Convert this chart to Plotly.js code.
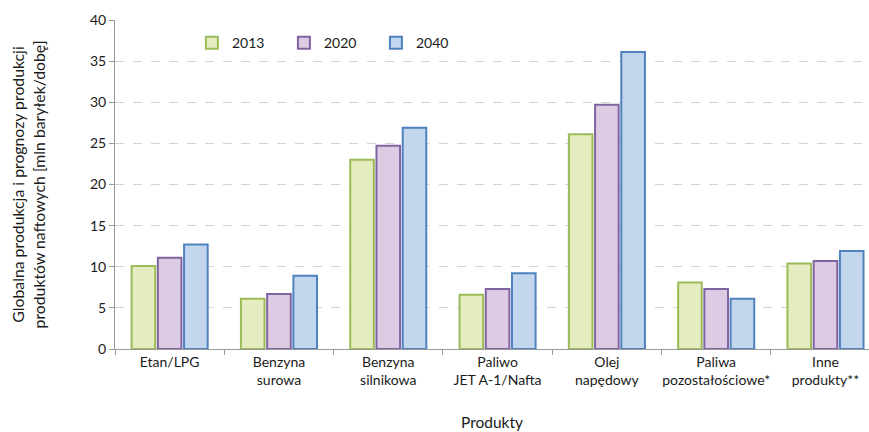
<!DOCTYPE html>
<html>
<head>
<meta charset="utf-8">
<script src="https://cdn.plot.ly/plotly-3.0.1.min.js"></script>
<style>html,body{margin:0;padding:0;background:#fff;}#chart{width:869px;height:432px;}</style>
</head>
<body>
<div id="chart"></div>
<script>
const categories = [
  "Etan/LPG",
  "Benzyna<br>surowa",
  "Benzyna<br>silnikowa",
  "Paliwo<br>JET A-1/Nafta",
  "Olej<br>napędowy",
  "Paliwa<br>pozostałościowe*",
  "Inne<br>produkty**"
];
const seriesNames = ["2013", "2020", "2040"];
const values2013 = [10.1, 6.1, 23.0, 6.6, 26.1, 8.1, 10.4];
const values2020 = [11.1, 6.7, 24.7, 7.3, 29.7, 7.3, 10.7];
const values2040 = [12.7, 8.9, 26.9, 9.2, 36.1, 6.1, 11.9];

const fills = ["#e5ecbf", "#dccbe3", "#c2d7ee"];
const lines = ["#9bbb59", "#8064a2", "#4f81bd"];
const allValues = [values2013, values2020, values2040];

const font = "Lato, 'Open Sans', sans-serif";

const traces = allValues.map((vals, i) => ({
  type: "bar",
  name: seriesNames[i],
  x: categories,
  y: vals,
  marker: { color: fills[i], line: { color: lines[i], width: 2 } },
  hoverinfo: "x+y+name"
}));

const layout = {
  width: 869,
  height: 432,
  margin: { l: 115, r: 0, t: 20, b: 83 },
  paper_bgcolor: "#ffffff",
  plot_bgcolor: "#ffffff",
  font: { family: font, size: 13, color: "#1a1a1a" },
  barmode: "group",
  bargap: 0.28,
  bargroupgap: 0.1,
  showlegend: true,
  legend: {
    orientation: "h",
    x: 0.102, xanchor: "left",
    y: 0.93, yanchor: "middle",
    entrywidth: 47, entrywidthmode: "pixels",
    font: { family: font, size: 14, color: "#1a1a1a" },
    bgcolor: "rgba(0,0,0,0)",
    traceorder: "normal"
  },
  xaxis: {
    type: "category",
    range: [-0.5, 6.398],
    tickson: "boundaries",
    ticks: "outside",
    ticklen: 5,
    tickcolor: "#999999",
    tickangle: 0,
    automargin: false,
    showline: true,
    linecolor: "#999999",
    linewidth: 1,
    showgrid: false,
    tickfont: { family: font, size: 14, color: "#1a1a1a" },
    title: { text: "Produkty", font: { family: font, size: 15.5, color: "#1a1a1a" }, standoff: 30 },
    fixedrange: true
  },
  yaxis: {
    range: [0, 40],
    dtick: 5,
    ticks: "outside",
    ticklen: 5,
    tickcolor: "#999999",
    showline: true,
    linecolor: "#999999",
    linewidth: 1,
    showgrid: true,
    gridcolor: "#d4d4d4",
    griddash: "dash",
    gridwidth: 1,
    zeroline: false,
    tickfont: { family: font, size: 14, color: "#1a1a1a" },
    title: {
      text: "Globalna produkcja i prognozy produkcji<br>produktów naftowych [mln baryłek/dobę]",
      font: { family: font, size: 15.8, color: "#1a1a1a" },
      standoff: 40
    },
    fixedrange: true
  },
  annotations: [{
    xref: "paper", yref: "y", x: 0, y: 40.3,
    ax: 0, ay: 10, axref: "pixel", ayref: "pixel",
    showarrow: true, arrowhead: 2, arrowsize: 1, arrowwidth: 1,
    arrowcolor: "#999999", text: ""
  }]
};

Plotly.newPlot("chart", traces, layout, { displayModeBar: false, staticPlot: true });
</script>
</body>
</html>
